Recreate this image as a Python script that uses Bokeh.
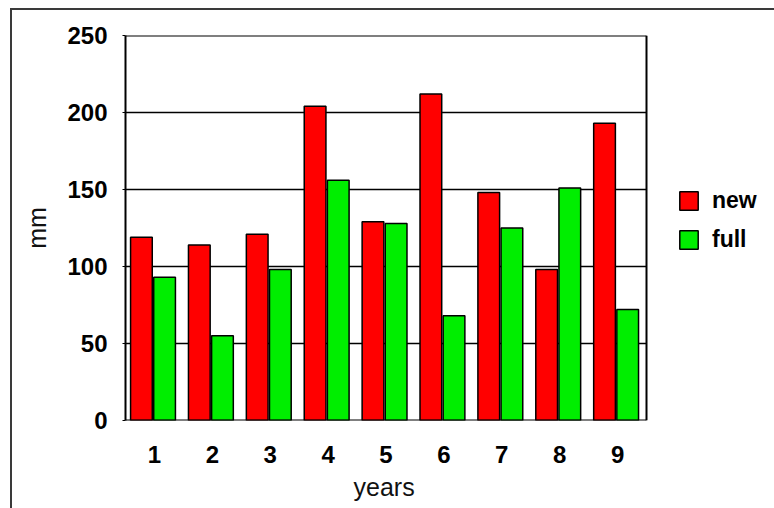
from bokeh.plotting import figure
from bokeh.models import Range1d, Legend, LegendItem, ColumnDataSource, FixedTicker, InlineStyleSheet, Title
from bokeh.embed import file_html
from bokeh.resources import INLINE

years = ["1", "2", "3", "4", "5", "6", "7", "8", "9"]
new_vals = [119, 114, 121, 204, 129, 212, 148, 98, 193]
full_vals = [93, 55, 98, 156, 128, 68, 125, 151, 72]
y_ticks = [0, 50, 100, 150, 200, 250]

# layout constants (pixels)
FRAME_LEFT = 125
FRAME_RIGHT_VISIBLE = 646
FRAME_RIGHT_CANVAS = 770
n = len(years)
px_per_cat = (FRAME_RIGHT_VISIBLE - FRAME_LEFT) / n
x_end = 0.5 + (FRAME_RIGHT_CANVAS - FRAME_LEFT) / px_per_cat

idx = list(range(1, n + 1))
src = ColumnDataSource(dict(
    xnew=[i - 0.225 for i in idx], xfull=[i + 0.175 for i in idx],
    new=new_vals, full=full_vals))

p = figure(width=774, height=508, x_range=Range1d(0.5, x_end),
           y_range=Range1d(0, 250), output_backend="svg", toolbar_location=None,
           min_border_left=FRAME_LEFT, min_border_right=774 - FRAME_RIGHT_CANVAS,
           min_border_top=35, min_border_bottom=88,
           background_fill_color="white", border_fill_color="white")

# horizontal grid lines + plot box, drawn inside the visible chart area
inner = y_ticks[1:-1]
p.segment(x0=[0.5] * len(inner), x1=[n + 0.5] * len(inner), y0=inner, y1=inner,
          line_color="black", line_width=1.5)

r_new = p.vbar(x="xnew", top="new", width=0.375, source=src,
               fill_color="#ff0000", line_color="black", line_width=1.5)
r_full = p.vbar(x="xfull", top="full", width=0.375, source=src,
                fill_color="#00ee00", line_color="black", line_width=1.5)

ymin, ymax = y_ticks[0], y_ticks[-1]
p.segment(x0=[0.5, 0.5, n + 0.5], x1=[n + 0.5, n + 0.5, n + 0.5],
          y0=[ymax, ymin, ymin], y1=[ymax, ymin, ymax],
          line_color="black", line_width=2)

p.outline_line_color = None
p.xgrid.grid_line_color = None
p.ygrid.grid_line_color = None

p.yaxis.ticker = FixedTicker(ticks=y_ticks)
p.yaxis.minor_tick_line_color = None
p.yaxis.major_tick_in = 0
p.yaxis.major_tick_out = 3
p.yaxis.major_tick_line_color = "black"
p.yaxis.axis_line_color = "black"
p.yaxis.axis_line_width = 2

p.xaxis.ticker = FixedTicker(ticks=idx)
p.xaxis.major_label_overrides = {i: y for i, y in zip(idx, years)}
p.xaxis.major_tick_line_color = None
p.xaxis.minor_tick_line_color = None
p.xaxis.axis_line_color = None

for ax in (p.xaxis[0], p.yaxis[0]):
    ax.major_label_text_font = "Liberation Sans"
    ax.major_label_text_font_style = "bold"
    ax.major_label_text_font_size = "24px"
    ax.major_label_text_color = "black"
    ax.axis_label_text_font = "Liberation Sans"
    ax.axis_label_text_font_style = "normal"
    ax.axis_label_text_font_size = "25px"
    ax.axis_label_text_color = "#111111"

p.yaxis.major_label_standoff = 15
p.xaxis.major_label_standoff = 19
p.yaxis.axis_label = "mm"
p.yaxis.axis_label_standoff = 13

# x-axis title, placed under the visible chart area
x_title = Title(text="years", align="left", offset=228, standoff=10,
                text_font="Liberation Sans", text_font_style="normal",
                text_font_size="25px", text_color="#111111")
p.add_layout(x_title, "below")

legend = Legend(items=[LegendItem(label="new", renderers=[r_new]),
                       LegendItem(label="full", renderers=[r_full])],
                location=(677 - FRAME_LEFT, 420 - 253), orientation="vertical",
                padding=0, margin=0, spacing=12, glyph_width=23, glyph_height=23,
                label_height=23, label_standoff=12,
                label_text_font="Liberation Sans", label_text_font_style="bold",
                label_text_font_size="23px", label_text_color="black",
                border_line_color=None, background_fill_alpha=0)
p.add_layout(legend, "center")

p.stylesheets = [InlineStyleSheet(css="""
:host { position: relative; }
:host::after {
  content: "";
  position: absolute;
  left: 10px; top: 8px; width: 800px; height: 600px;
  border-top: 2.5px solid #3a3a3a;
  border-left: 2.5px solid #3a3a3a;
  pointer-events: none;
  box-sizing: border-box;
}
""")]

open("out.html", "w").write(file_html(p, INLINE))
